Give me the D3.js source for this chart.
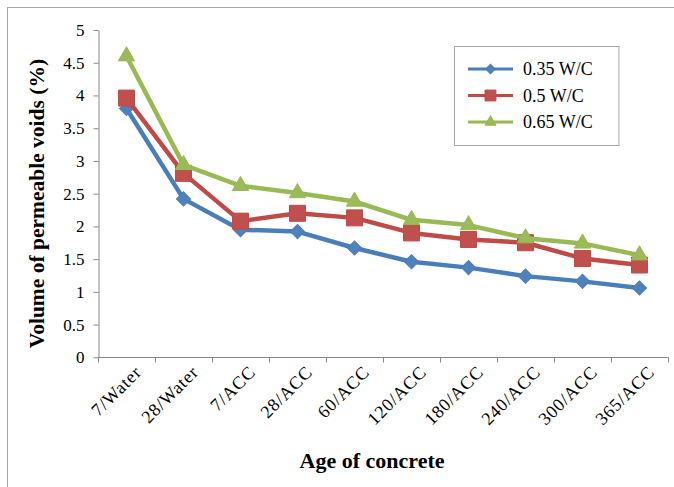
<!DOCTYPE html>
<html>
<head>
<meta charset="utf-8">
<script src="https://cdn.jsdelivr.net/npm/d3@7"></script>
<style>
  html, body { margin: 0; padding: 0; background: #fff; }
  svg { display: block; }
  svg text { font-family: "Liberation Serif", "Times New Roman", serif; fill: #000; }
</style>
</head>
<body>
<svg id="chart" width="674" height="487"></svg>
<script>
// Age of concrete / curing regime
const categories = ["7/Water", "28/Water", "7/ACC", "28/ACC", "60/ACC", "120/ACC",
                    "180/ACC", "240/ACC", "300/ACC", "365/ACC"];

// Volume of permeable voids (%) for each water/cement ratio
const wc035 = [3.80, 2.42, 1.95, 1.92, 1.67, 1.46, 1.37, 1.24, 1.16, 1.06];
const wc050 = [3.96, 2.81, 2.08, 2.20, 2.13, 1.90, 1.80, 1.75, 1.51, 1.41];
const wc065 = [4.60, 2.94, 2.62, 2.51, 2.38, 2.10, 2.02, 1.82, 1.74, 1.56];

const seriesNames = ["0.35 W/C", "0.5 W/C", "0.65 W/C"];
const yTicks = [0, 0.5, 1, 1.5, 2, 2.5, 3, 3.5, 4, 4.5, 5];

const series = [
  { name: seriesNames[0], values: wc035, line: "#4A7EBB", fill: "#4F81BD", shape: "diamond" },
  { name: seriesNames[1], values: wc050, line: "#BE4B48", fill: "#C0504D", shape: "square" },
  { name: seriesNames[2], values: wc065, line: "#98B954", fill: "#9BBB59", shape: "triangle" }
];

const serif = '"Liberation Serif", "Times New Roman", serif';
const svg = d3.select("#chart");

// outer chart frame (continues past the right and bottom edges)
svg.append("rect")
  .attr("x", 7.5).attr("y", 7.5)
  .attr("width", 720).attr("height", 520)
  .attr("fill", "none").attr("stroke", "#a6a6a6").attr("stroke-width", 1);

const plot = { left: 98, right: 668, top: 30, bottom: 357.3 };

const x = d3.scaleBand().domain(categories).range([plot.left, plot.right]).padding(0);
const y = d3.scaleLinear().domain([0, 5]).range([plot.bottom, plot.top]);
const cx = d => x(d) + x.bandwidth() / 2;

const axisColor = "#868686";

// y axis
const yAxis = svg.append("g")
  .attr("transform", `translate(${plot.left + 0.5},0)`)
  .call(d3.axisLeft(y).tickValues(yTicks).tickSize(5).tickSizeOuter(0).tickPadding(9)
        .tickFormat(d => d3.format("")(d)))
  .attr("font-family", serif)
  .attr("font-size", 17);
yAxis.select(".domain").attr("stroke", axisColor);
yAxis.selectAll(".tick line").attr("stroke", axisColor);
yAxis.selectAll(".tick text")
  .style("font-family", serif)
  .style("font-size", "17px").style("fill", "#000");

// x axis: line plus tick marks at the category boundaries
const xg = svg.append("g");
xg.append("line")
  .attr("x1", plot.left).attr("x2", plot.right + 0.5)
  .attr("y1", Math.round(y(0)) + 0.5).attr("y2", Math.round(y(0)) + 0.5)
  .attr("stroke", axisColor);
const boundaries = categories.map(c => x(c)).concat([x(categories[categories.length - 1]) + x.bandwidth()]);
xg.selectAll("line.tick").data(boundaries).join("line")
  .attr("class", "tick")
  .attr("x1", d => Math.round(d) + 0.5).attr("x2", d => Math.round(d) + 0.5)
  .attr("y1", Math.round(y(0)) + 0.5).attr("y2", Math.round(y(0)) + 5.5)
  .attr("stroke", axisColor);

// rotated category labels
xg.selectAll("text.cat").data(categories).join("text")
  .attr("class", "cat")
  .attr("transform", d => `translate(${cx(d) + 16},${y(0) + 16}) rotate(-45)`)
  .attr("text-anchor", "end")
  .style("font-size", "18px")
  .style("letter-spacing", "0.8px")
  .text(d => d);

// axis titles
svg.append("text")
  .attr("transform", `translate(44,${(50 + plot.bottom) / 2}) rotate(-90)`)
  .attr("text-anchor", "middle")
  .style("font-size", "21.5px").style("font-weight", "bold")
  .text("Volume of permeable voids (%)");

svg.append("text")
  .attr("x", 372).attr("y", 468)
  .attr("text-anchor", "middle")
  .style("font-size", "22px").style("font-weight", "bold")
  .text("Age of concrete");

// marker paths
function markerPath(shape, scale) {
  if (shape === "diamond") return d3.symbol(d3.symbolSquare, 100 * scale * scale)();
  if (shape === "square") return d3.symbol(d3.symbolSquare, 256 * scale * scale)();
  return d3.symbol(d3.symbolTriangle, 115 * scale * scale)();
}
const markerRotate = s => s === "diamond" ? 45 : 0;

const line = d3.line().x((d, i) => cx(categories[i])).y(d => y(d));

series.forEach(s => {
  const g = svg.append("g");
  g.append("path")
    .datum(s.values)
    .attr("d", line)
    .attr("fill", "none")
    .attr("stroke", s.line)
    .attr("stroke-width", 4.5)
    .attr("stroke-linejoin", "round");
  g.selectAll("path.marker").data(s.values).join("path")
    .attr("class", "marker")
    .attr("d", markerPath(s.shape, 1))
    .attr("transform", (d, i) => `translate(${cx(categories[i])},${y(d)}) rotate(${markerRotate(s.shape)})`)
    .attr("fill", s.fill)
    .attr("stroke", s.line).attr("stroke-width", 1);
});

// legend
const legend = svg.append("g");
legend.append("rect")
  .attr("x", 454.5).attr("y", 46.5).attr("width", 164.5).attr("height", 99)
  .attr("fill", "#fff").attr("stroke", "#a6a6a6");
const rows = [69, 95.5, 122];
series.forEach((s, i) => {
  const row = legend.append("g").attr("transform", `translate(0,${rows[i]})`);
  row.append("line")
    .attr("x1", 468).attr("x2", 513).attr("y1", 0).attr("y2", 0)
    .attr("stroke", s.line).attr("stroke-width", 3);
  row.append("path")
    .attr("d", markerPath(s.shape, 0.68))
    .attr("transform", `translate(490.5,0) rotate(${markerRotate(s.shape)})`)
    .attr("fill", s.fill).attr("stroke", s.line).attr("stroke-width", 1);
  row.append("text")
    .attr("x", 523).attr("y", 0).attr("dy", "0.35em")
    .style("font-size", "18px")
    .text(s.name);
});
</script>
</body>
</html>
